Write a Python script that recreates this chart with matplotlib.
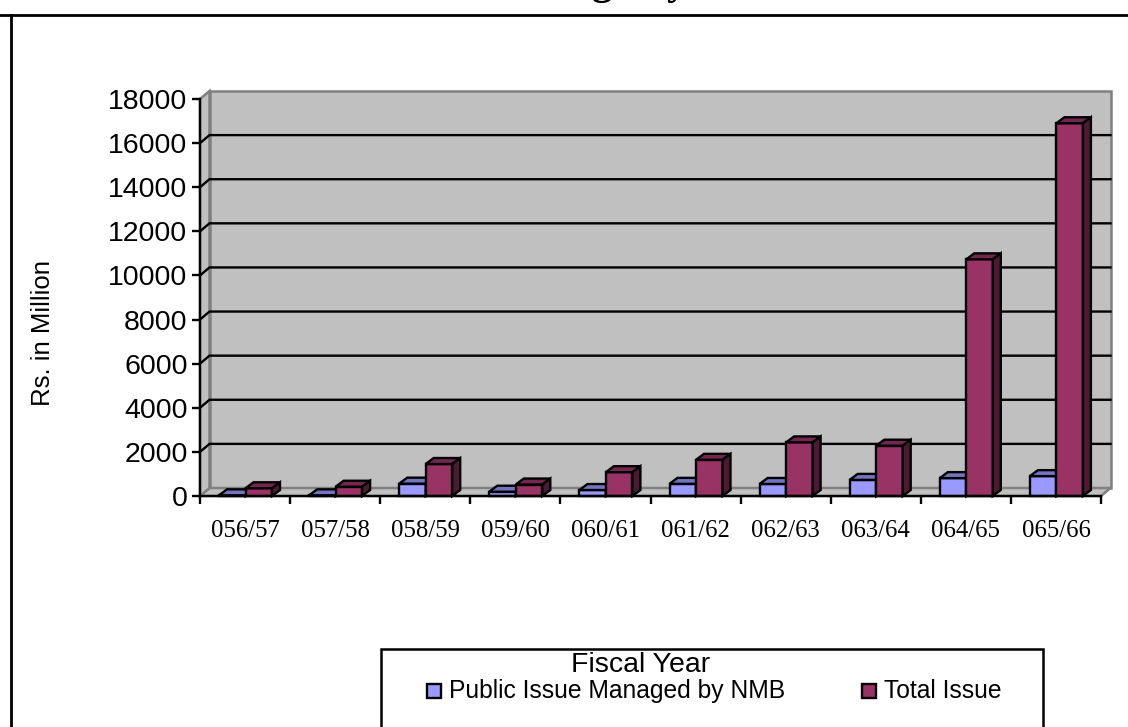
import matplotlib
matplotlib.use("Agg")
import matplotlib.pyplot as plt
from matplotlib.patches import Polygon, Rectangle

W, H = 1128, 727

years = ["056/57", "057/58", "058/59", "059/60", "060/61",
         "061/62", "062/63", "063/64", "064/65", "065/66"]
public_issue = [30, 30, 560, 195, 270, 550, 545, 730, 810, 900]
total_issue = [350, 420, 1450, 520, 1080, 1640, 2430, 2280, 10730, 16900]
y_ticks = list(range(0, 18001, 2000))

LIGHT = ("#9999ff", "#7373bf", "#4d4d80")
DARK = ("#993366", "#732650", "#4d1a33")
WALL = "#c0c0c0"
EDGE = "#808080"

plt.rcParams["font.family"] = ["Liberation Sans", "DejaVu Sans"]

fig = plt.figure(figsize=(W / 100, H / 100), dpi=100)
# front plane of the plot box, in pixels: x 200..1101, y 99..496
ax = fig.add_axes([200 / W, 1 - 496 / H, 901 / W, 397 / H])
ax.set_xlim(0, len(years))
ax.set_ylim(0, 18000)
ax.patch.set_visible(False)

px_x = len(years) / 901
px_y = 18000 / 397


def shade(points, color, z=2, lw=1.7, ec="black"):
    ax.add_patch(Polygon(points, closed=True, fc=color, ec=ec, lw=lw, zorder=z,
                         clip_on=False, joinstyle="miter"))


# back wall and floor of the box
wall_dx, wall_dy = 9.5 * px_x, 8 * px_y
n = len(years)
shade([(wall_dx, wall_dy), (n + wall_dx, wall_dy), (n + wall_dx, 18000 + wall_dy),
       (wall_dx, 18000 + wall_dy)], WALL, z=0, lw=1.8, ec=EDGE)
shade([(0, 0), (n, 0), (n + wall_dx, wall_dy), (wall_dx, wall_dy)], WALL, z=0, lw=1.8, ec=EDGE)
shade([(0, 0), (wall_dx, wall_dy), (wall_dx, 18000 + wall_dy), (0, 18000)], WALL, z=0, lw=1.8, ec=EDGE)

# gridlines run along the back wall and step down the left side
for v in y_ticks[1:-1]:
    ax.plot([0, wall_dx, n + wall_dx], [v, v + wall_dy, v + wall_dy], color="black",
            lw=1.7, zorder=1, clip_on=False, solid_joinstyle="miter")

# bars: front face plus top and side faces
bar_w = 26.5 * px_x
bar_left = 19 * px_x
dep_x, dep_y = 8 * px_x, 6 * px_y


def draw_bar(x, value, colors, z):
    ax.bar(x, value, width=bar_w, align="edge", color=colors[0], edgecolor="black",
           linewidth=1.7, zorder=z, clip_on=False)
    r = x + bar_w
    shade([(x, value), (r, value), (r + dep_x, value + dep_y), (x + dep_x, value + dep_y)],
          colors[1], z=z)
    shade([(r, 0), (r + dep_x, dep_y), (r + dep_x, value + dep_y), (r, value)], colors[2], z=z)


for i in range(n):
    draw_bar(i + bar_left, public_issue[i], LIGHT, 3)
    draw_bar(i + bar_left + bar_w, total_issue[i], DARK, 4)

ax.set_xticks(range(n + 1))
ax.set_xticklabels([])
ax.set_yticks(y_ticks)
ax.set_yticklabels([str(v) for v in y_ticks], fontsize=20.5)
ax.tick_params(axis="y", length=6, width=1.7, pad=3)
ax.tick_params(axis="x", length=6, width=1.7)
for side in ("top", "right"):
    ax.spines[side].set_visible(False)
for side in ("left", "bottom"):
    ax.spines[side].set_linewidth(1.7)
    ax.spines[side].set_zorder(6)

for i, label in enumerate(years):
    ax.text(i + 0.5, -0.06, label, transform=ax.get_xaxis_transform(), ha="center", va="top",
            fontsize=17.8, family="Liberation Serif")


def px_text(x, y, s, **kw):
    fig.text(x / W, 1 - y / H, s, **kw)


px_text(43, 333, "Rs. in Million", rotation=90, ha="center", va="center", fontsize=18.5)

# outer chart frame, cut off by the page at the right and bottom
fig.add_artist(plt.Line2D([0, 1], [1 - 15 / H] * 2, color="black", lw=2))
fig.add_artist(plt.Line2D([10.5 / W] * 2, [0, 1 - 15 / H], color="black", lw=2))

# title baseline sits above the page, only the descenders show
px_text(688, -6, "Underwriting   by", ha="right", va="baseline", fontsize=30,
        family="Liberation Serif", weight="bold")

# legend box
fig.add_artist(Rectangle((380.5 / W, -0.01), 662.5 / W, 1.01 - 649 / H, transform=fig.transFigure,
                         fc="white", ec="black", lw=1.8))
px_text(641, 665, "Fiscal Year", ha="center", va="center", fontsize=20.5)
for x0, color, label in [(426.5, LIGHT[0], "Public Issue Managed by NMB"),
                         (862, DARK[0], "Total Issue")]:
    fig.add_artist(Rectangle((x0 / W, 1 - 698 / H), 14 / W, 14 / H, transform=fig.transFigure,
                             fc=color, ec="black", lw=1.7))
    px_text(x0 + 22.5, 691, label, ha="left", va="center", fontsize=17.7)

fig.savefig("out.png", dpi=100)
